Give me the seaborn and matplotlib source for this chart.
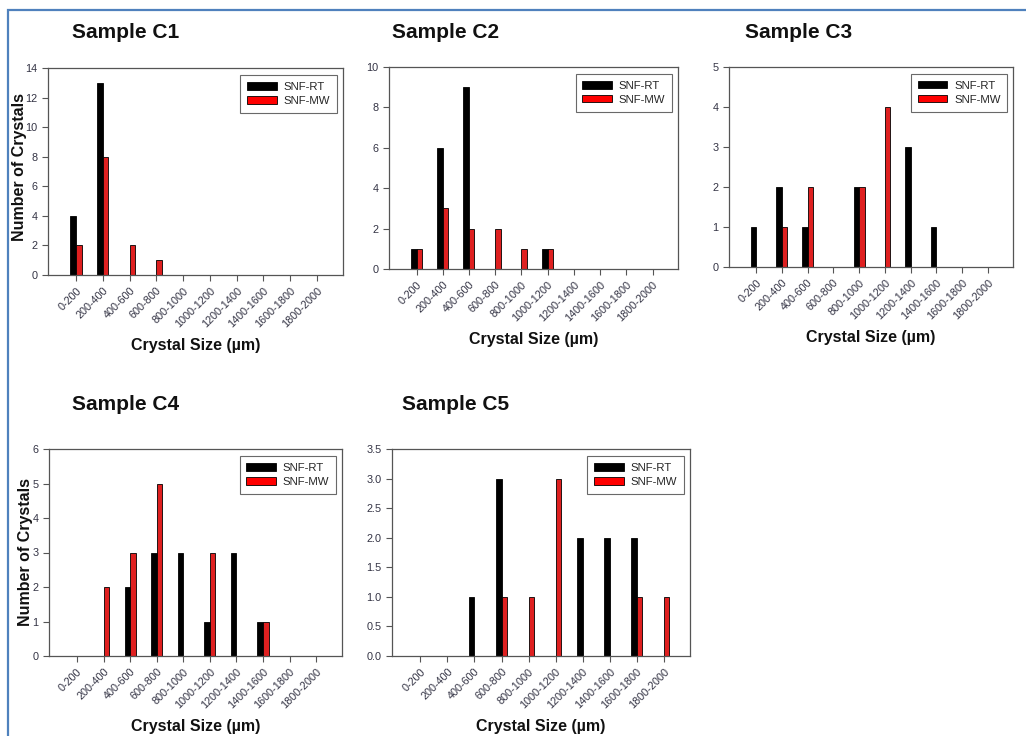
import matplotlib
matplotlib.use("Agg")
import matplotlib.pyplot as plt
import seaborn as sns
import pandas as pd
from matplotlib.patches import Patch, Rectangle

sns.set_theme(style="white")
plt.rcParams['font.family'] = ['Liberation Sans', 'DejaVu Sans']

categories = ["0-200", "200-400", "400-600", "600-800", "800-1000", "1000-1200",
              "1200-1400", "1400-1600", "1600-1800", "1800-2000"]
series_names = ["SNF-RT", "SNF-MW"]

c1_rt = [4, 13, 0, 0, 0, 0, 0, 0, 0, 0]
c1_mw = [2, 8, 2, 1, 0, 0, 0, 0, 0, 0]
c2_rt = [1, 6, 9, 0, 0, 1, 0, 0, 0, 0]
c2_mw = [1, 3, 2, 2, 1, 1, 0, 0, 0, 0]
c3_rt = [1, 2, 1, 0, 2, 0, 3, 1, 0, 0]
c3_mw = [0, 1, 2, 0, 2, 4, 0, 0, 0, 0]
c4_rt = [0, 0, 2, 3, 3, 1, 3, 1, 0, 0]
c4_mw = [0, 2, 3, 5, 0, 3, 0, 1, 0, 0]
c5_rt = [0, 0, 1, 3, 0, 0, 2, 2, 2, 0]
c5_mw = [0, 0, 0, 1, 1, 3, 0, 0, 1, 1]

titles = ["Sample C1", "Sample C2", "Sample C3", "Sample C4", "Sample C5"]
samples = [(c1_rt, c1_mw), (c2_rt, c2_mw), (c3_rt, c3_mw), (c4_rt, c4_mw), (c5_rt, c5_mw)]
ymaxes = [14, 10, 5, 6, 3.5]
ysteps = [2, 2, 1, 1, 0.5]
colors = ["#000000", "#ff0000"]

W, H = 1026, 736
fig = plt.figure(figsize=(W / 100, H / 100), dpi=100)

# axes boxes in pixels: left, top, right, bottom
boxes = [(48, 68, 343, 275), (389, 67, 678, 269), (729, 67, 1013, 267),
         (49, 449, 342, 656), (392, 449, 690, 656)]
title_pos = [(72, 32), (392, 33), (745, 33), (72, 405), (402, 405)]
ylabel_xy = [(-0.071, 0.52), None, None, (-0.055, 0.5), None]

# screenshot frame
fig.add_artist(Rectangle((8 / W, -0.01), 1.1, (H - 10) / H + 0.01, transform=fig.transFigure,
                         fill=False, edgecolor="#4f81bd", linewidth=1.6))

for i, (rt, mw) in enumerate(samples):
    l, t, r, b = boxes[i]
    ax = fig.add_axes([l / W, 1 - b / H, (r - l) / W, (b - t) / H])
    df = pd.DataFrame({
        "Size": categories * 2,
        "Count": list(rt) + list(mw),
        "Series": [series_names[0]] * len(categories) + [series_names[1]] * len(categories),
    })
    sns.barplot(data=df, x="Size", y="Count", hue="Series", order=categories,
                hue_order=series_names, palette=colors, width=0.42,
                edgecolor="black", linewidth=0.6, ax=ax, legend=False)
    ax.set_xlim(-1.05, 9.97)
    ax.set_ylim(0, ymaxes[i])
    n = int(round(ymaxes[i] / ysteps[i]))
    ax.set_yticks([k * ysteps[i] for k in range(n + 1)])
    if ysteps[i] < 1:
        ax.set_yticklabels([f"{k * ysteps[i]:.1f}" for k in range(n + 1)])
    ax.set_xticks(range(len(categories)))
    ax.set_xticklabels(categories, rotation=45, ha="right", rotation_mode="anchor")
    ax.tick_params(axis="both", which="major", direction="out", length=4, width=0.8,
                   colors="#555555", labelsize=7.8, labelcolor="#333344", bottom=True, left=True)
    for s in ax.spines.values():
        s.set_color("#555555")
        s.set_linewidth(0.9)
    ax.set_xlabel("Crystal Size (\u00b5m)", fontsize=11.5, fontweight="bold", color="#111111", labelpad=6)
    if ylabel_xy[i] is not None:
        ax.set_ylabel("Number of Crystals", fontsize=11.5, fontweight="bold", color="#111111")
        ax.yaxis.set_label_coords(*ylabel_xy[i])
    else:
        ax.set_ylabel("")
    handles = [Patch(facecolor=colors[0], edgecolor="black", linewidth=0.6),
               Patch(facecolor=colors[1], edgecolor="black", linewidth=0.6)]
    leg = ax.legend(handles, series_names, loc="upper right", fontsize=8.2,
                    frameon=True, fancybox=False, edgecolor="#444444",
                    handlelength=2.6, handleheight=0.6, borderpad=0.6,
                    labelspacing=0.35, handletextpad=0.6, bbox_to_anchor=(0.98, 0.965),
                    borderaxespad=0.0)
    leg.get_frame().set_linewidth(0.8)
    tx, ty = title_pos[i]
    fig.text(tx / W, 1 - ty / H, titles[i], fontsize=15, fontweight="bold",
             ha="left", va="center", color="#111111")

fig.savefig("out.png", dpi=100, facecolor="white")
